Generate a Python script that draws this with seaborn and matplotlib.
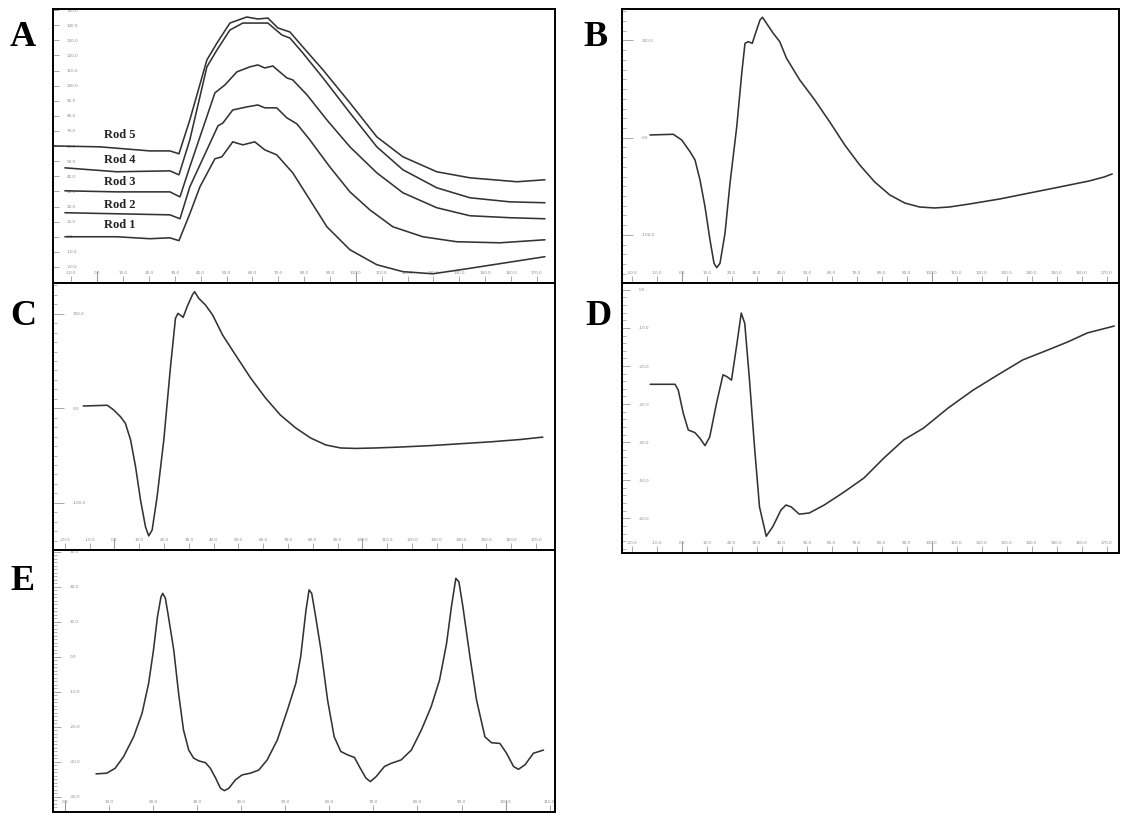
import numpy as np
import pandas as pd
import matplotlib
matplotlib.use("Agg")
import matplotlib.pyplot as plt
import matplotlib.ticker as mticker
import seaborn as sns

sns.set_theme(style="white")
plt.rcParams['font.family'] = ['DejaVu Sans']

# ---------------- data ----------------
# Panel A : five rods
rod1_x = [-12.5, 1.0, 7.6, 20.4, 28.1, 31.6, 35.8, 39.7, 45.5, 48.2, 52.4, 56.3, 60.9, 64.8, 69.4, 75.6, 82.2, 88.8, 97.7, 108.1, 118.2, 129.8, 142.9, 155.7, 173.1]
rod1_y = [0, 0, 0, -1.3, -0.7, -2.6, 15.2, 33.0, 51.6, 52.9, 62.8, 60.8, 62.8, 57.5, 54.2, 42.3, 24.5, 6.6, -8.6, -18.5, -23.1, -24.5, -21.2, -17.8, -13.2]
rod2_x = [-12.5, 7.6, 28.1, 32.0, 35.8, 46.7, 48.6, 52.4, 57.8, 62.1, 64.8, 69.4, 73.3, 77.2, 82.2, 89.9, 97.7, 105.4, 114.3, 125.9, 139.0, 155.7, 173.1]
rod2_y = [15.9, 15.2, 14.5, 11.9, 33.0, 73.4, 75.3, 83.9, 85.9, 87.2, 85.3, 85.3, 78.7, 74.7, 64.1, 46.3, 29.7, 17.8, 6.6, 0.0, -3.3, -4.0, -2.0]
rod3_x = [-12.5, 7.6, 28.1, 32.0, 35.8, 45.5, 49.4, 54.0, 59.0, 62.1, 64.8, 67.9, 73.3, 75.6, 81.1, 88.8, 97.7, 108.1, 118.2, 131.3, 144.1, 159.5, 173.1]
rod3_y = [30.4, 29.7, 29.7, 26.4, 46.3, 95.2, 100.5, 109.1, 112.4, 113.7, 111.7, 113.0, 105.1, 103.8, 93.9, 77.3, 59.5, 42.3, 29.1, 19.2, 13.9, 12.6, 11.9]
rod4_x = [-12.5, 7.6, 28.1, 31.6, 35.8, 42.4, 46.3, 51.3, 56.3, 61.7, 66.0, 71.4, 74.5, 79.5, 87.3, 97.7, 108.1, 118.2, 131.3, 144.1, 159.5, 173.1]
rod4_y = [45.6, 43.0, 43.6, 41.0, 64.1, 112.4, 123.6, 136.8, 141.4, 141.4, 141.4, 133.5, 131.5, 121.6, 105.1, 82.0, 59.5, 44.3, 32.4, 25.8, 23.1, 22.5]
rod5_x = [-17.1, 1.0, 20.4, 28.1, 31.6, 35.8, 42.4, 46.3, 51.3, 57.8, 62.1, 66.0, 69.9, 74.5, 79.5, 87.3, 97.7, 108.1, 118.2, 131.3, 144.1, 162.3, 173.1]
rod5_y = [60.1, 59.5, 56.8, 56.8, 54.9, 77.3, 117.0, 128.2, 141.4, 145.4, 144.1, 144.7, 138.1, 135.5, 125.6, 110.4, 88.6, 66.1, 52.9, 43.0, 39.0, 36.4, 37.7]
rod_names = ["Rod 1", "Rod 2", "Rod 3", "Rod 4", "Rod 5"]

# Panel B
b_x = [-12.7, -3.4, 0, 3.3, 5.3, 7.3, 9.3, 11.3, 12.9, 14.0, 15.3, 17.3, 19.3, 22.0, 24.0, 25.3, 26.6, 28.2, 29.5, 31.3, 32.3, 33.9, 36.6, 39.2, 41.9, 47.2, 53.2, 59.2, 65.2, 71.2, 77.2, 83.2, 89.2, 95.1, 101.1, 107.1, 115.1, 127.1, 139.1, 151.0, 163.0, 169.0, 172.2]
b_y = [2.8, 3.5, -2.4, -14.4, -22.9, -43.5, -71.0, -105.2, -129.2, -133.7, -129.2, -98.4, -46.9, 11.3, 66.3, 97.1, 98.8, 97.1, 107.4, 121.1, 123.9, 117.7, 107.4, 98.8, 81.7, 59.4, 38.8, 16.2, -7.5, -28.1, -45.6, -58.9, -67.2, -71.3, -72.3, -71.3, -68.2, -63.1, -56.9, -50.8, -44.5, -40.4, -37.3]

# Panel C
c_x = [-12.6, -2.9, -0.3, 2.4, 4.4, 6.5, 8.5, 10.5, 12.5, 13.8, 15.2, 17.2, 19.9, 22.6, 24.6, 25.6, 27.7, 29.3, 31.4, 32.3, 34.0, 36.7, 39.6, 43.6, 48.8, 54.9, 60.9, 66.9, 73.1, 79.1, 85.2, 91.2, 97.3, 105.4, 115.5, 127.6, 139.7, 151.8, 163.9, 172.8]
c_y = [2.4, 3.2, -1.8, -8.9, -15.9, -33.5, -61.8, -97.0, -125.3, -135.1, -128.8, -93.5, -33.5, 44.0, 95.2, 100.5, 96.3, 107.5, 119.9, 123.4, 116.4, 109.3, 98.7, 77.6, 56.5, 32.1, 11.0, -7.1, -20.8, -31.4, -38.8, -42.0, -42.5, -42.0, -41.0, -39.5, -37.5, -35.5, -33.0, -30.5]

# Panel D
d_x = [-12.6, -2.7, -1.4, 0.6, 2.6, 5.3, 7.3, 9.3, 11.2, 13.9, 16.5, 18.1, 19.9, 21.9, 23.8, 25.2, 27.1, 29.1, 31.1, 33.8, 36.4, 39.7, 41.7, 43.8, 47.0, 51.0, 57.0, 64.9, 72.9, 80.8, 88.8, 96.7, 106.6, 116.6, 126.5, 136.4, 146.4, 154.3, 162.3, 173.0]
d_y = [-24.8, -24.8, -26.3, -32.4, -36.8, -37.5, -39.0, -40.9, -38.6, -29.8, -22.3, -22.8, -23.7, -14.9, -6.1, -8.8, -23.7, -41.2, -57.0, -64.7, -62.2, -57.8, -56.5, -57.0, -58.9, -58.6, -56.5, -53.1, -49.4, -44.2, -39.4, -36.3, -31.0, -26.3, -22.3, -18.4, -15.8, -13.7, -11.3, -9.5]

# Panel E
e_x = [7.06, 9.5, 11.4, 13.3, 15.6, 17.5, 19.0, 20.1, 21.0, 21.8, 22.2, 22.8, 23.5, 24.7, 25.8, 26.9, 28.1, 29.2, 30.4, 31.9, 33.0, 34.2, 35.3, 36.2, 37.2, 38.7, 40.2, 42.1, 44.0, 45.9, 48.2, 50.5, 52.4, 53.5, 54.7, 55.4, 56.0, 56.9, 58.1, 59.6, 61.1, 62.6, 64.2, 65.7, 66.8, 68.3, 69.3, 70.6, 72.5, 74.0, 76.3, 78.6, 80.9, 83.1, 85.0, 86.6, 87.7, 88.7, 89.4, 90.3, 91.9, 93.4, 95.3, 96.8, 98.7, 100.2, 101.8, 102.9, 104.4, 106.3, 108.6]
e_y = [-33.5, -33.3, -31.9, -28.6, -22.9, -16.2, -7.6, 1.9, 11.4, 17.1, 18.1, 16.7, 11.4, 1.9, -10.5, -20.9, -26.7, -29.0, -29.8, -30.3, -31.9, -34.7, -37.6, -38.3, -37.6, -35.2, -33.8, -33.3, -32.4, -29.5, -23.8, -15.2, -7.6, 0.0, 13.3, 19.1, 18.1, 11.4, 1.9, -12.4, -22.9, -27.1, -28.1, -28.8, -31.4, -34.7, -35.7, -34.3, -31.4, -30.5, -29.5, -26.7, -20.9, -14.3, -6.7, 3.8, 14.3, 22.4, 21.4, 14.3, 0.0, -12.4, -22.9, -24.6, -24.8, -27.6, -31.4, -32.2, -30.9, -27.6, -26.7]

panel_letters = ["A", "B", "C", "D", "E"]

# ---------------- styling helpers ----------------
LINE = "#333333"
TICKC = "#9a9a9a"


def style_axis(ax, xlim, ylim, xticks, yticks, xlong, ylong=None, yminor=None,
               xtl=5, ytl=4):
    ax.set_xlim(*xlim)
    ax.set_ylim(*ylim)
    ax.set_xlabel("")
    ax.set_ylabel("")
    ax.set_facecolor("white")
    for s in ax.spines.values():
        s.set_visible(True)
        s.set_color("black")
        s.set_linewidth(1.4)
        s.set_zorder(5)
    ax.set_xticks(xticks)
    ax.set_yticks(yticks)
    ax.xaxis.set_major_formatter(mticker.FormatStrFormatter('%.1f'))
    ax.yaxis.set_major_formatter(mticker.FormatStrFormatter('%.1f'))
    ax.xaxis.remove_overlapping_locs = False
    ax.yaxis.remove_overlapping_locs = False
    ax.set_xticks(xlong, minor=True)
    yminor_locs = list(yminor or []) + list(ylong or [])
    if yminor_locs:
        ax.set_yticks(yminor_locs, minor=True)
    ax.tick_params(axis='x', which='major', direction='in', length=xtl, width=0.6,
                   color=TICKC, labelsize=3, labelcolor="#8a8a8a", pad=-(xtl + 1),
                   bottom=True, top=False)
    ax.tick_params(axis='x', which='minor', direction='in', length=xtl + 4, width=0.8,
                   color=TICKC, bottom=True, top=False)
    ax.tick_params(axis='y', which='major', direction='in', length=ytl, width=0.6,
                   color=TICKC, labelsize=3, labelcolor="#8a8a8a", pad=-(ytl + 6),
                   left=True, right=False)
    ax.tick_params(axis='y', which='minor', direction='in', length=3, width=0.5,
                   color=TICKC, left=True, right=False)
    for lab in ax.get_xticklabels():
        lab.set_va('bottom')
    for lab in ax.get_yticklabels():
        lab.set_ha('left')
    ax.grid(False)


W, H = 1123, 814
fig = plt.figure(figsize=(W / 100, H / 100), dpi=100)
fig.patch.set_facecolor("white")


def rect(x0, y0, x1, y1):
    return [x0 / W, 1 - y1 / H, (x1 - x0) / W, (y1 - y0) / H]


axA = fig.add_axes(rect(53, 9, 555, 283))
axB = fig.add_axes(rect(622, 9, 1119, 283))
axC = fig.add_axes(rect(53, 283, 555, 550))
axD = fig.add_axes(rect(622, 283, 1119, 553))
axE = fig.add_axes(rect(53, 550, 555, 812))

line_kw = dict(color=LINE, lw=1.15, solid_joinstyle="round", solid_capstyle="round")

# Panel A
rods_x = [rod1_x, rod2_x, rod3_x, rod4_x, rod5_x]
rods_y = [rod1_y, rod2_y, rod3_y, rod4_y, rod5_y]
dfA = pd.concat([pd.DataFrame({"t": xs, "v": ys, "rod": n})
                 for xs, ys, n in zip(rods_x, rods_y, rod_names)])
sns.lineplot(data=dfA, x="t", y="v", units="rod", estimator=None, sort=False,
             ax=axA, **line_kw)
rod_label_x = 8.8
rod_label_y = [7.9, 21.3, 36.4, 51.1, 67.1]
for n, yy in zip(rod_names, rod_label_y):
    axA.text(rod_label_x, yy, n, ha="center", va="center", fontsize=9,
             fontweight="bold", family="Liberation Serif", color="#222")
style_axis(axA, (-17.1, 177.0), (-30.6, 150.7),
           np.arange(-10, 171, 10), np.arange(-20, 151, 10), [0, 100], ytl=4)

# Panel B
sns.lineplot(x=b_x, y=b_y, sort=False, estimator=None, ax=axB, **line_kw)
style_axis(axB, (-23.9, 174.9), (-149.5, 132.4),
           np.arange(-20, 171, 10), [-100, 0, 100], [0, 100],
           yminor=[v for v in range(-140, 131, 10) if v % 100 != 0], ytl=8)

# Panel C
sns.lineplot(x=c_x, y=c_y, sort=False, estimator=None, ax=axC, **line_kw)
style_axis(axC, (-24.8, 177.7), (-150.0, 132.6),
           np.arange(-20, 171, 10), [-100, 0, 100], [0, 100],
           yminor=[v for v in range(-140, 131, 10) if v % 100 != 0], ytl=8)

# Panel D
sns.lineplot(x=d_x, y=d_y, sort=False, estimator=None, ax=axD, **line_kw)
style_axis(axD, (-23.9, 174.9), (-69.1, 1.8),
           np.arange(-20, 171, 10), np.arange(-60, 1, 10), [0, 100],
           yminor=[v for v in range(-68, 1, 2) if v % 10 != 0], ytl=6)

# Panel E
sns.lineplot(x=e_x, y=e_y, sort=False, estimator=None, ax=axE, **line_kw)
style_axis(axE, (-2.7, 111.2), (-44.4, 30.5),
           np.arange(0, 111, 10), np.arange(-40, 31, 10), [0, 100],
           yminor=[v for v in range(-44, 31, 1) if v % 10 != 0], ytl=6)

# panel letters
letter_pos = [(23, 38), (596, 38), (23, 317), (598, 317), (23, 581)]
for L, (px, py) in zip(panel_letters, letter_pos):
    fig.text(px / W, 1 - py / H, L, ha="center", va="center", fontsize=26,
             fontweight="bold", family="Liberation Serif", color="black")

fig.savefig("out.png", dpi=100, facecolor="white")
